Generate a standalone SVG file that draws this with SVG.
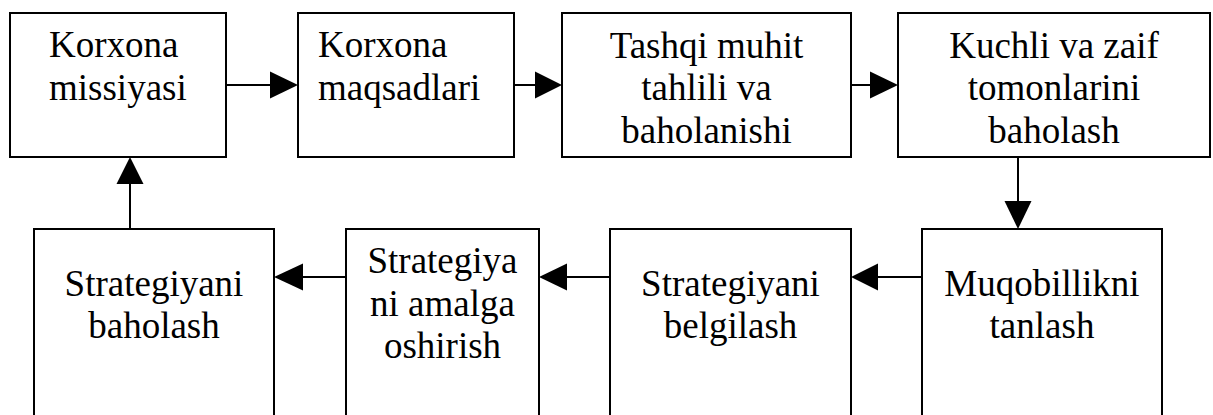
<svg xmlns="http://www.w3.org/2000/svg" width="1213" height="415" viewBox="0 0 1213 415">
<style>
.box{fill:#fff;stroke:#000;stroke-width:2}
.t{font-family:"Liberation Serif","Times New Roman",serif;font-size:37px;fill:#000}
.c{text-anchor:middle}
.ln{stroke:#000;stroke-width:2;fill:none}
.ah{fill:#000}
</style>
<rect width="1213" height="415" fill="#fff"/>
<g id="node-missiya"><rect class="box" x="10" y="13" width="216" height="144"/>
<text class="t" x="49" y="57">Korxona</text><text class="t" x="49" y="100">missiyasi</text></g>
<g id="node-maqsad"><rect class="box" x="298" y="13" width="216" height="144"/>
<text class="t" x="318" y="57">Korxona</text><text class="t" x="318" y="100">maqsadlari</text></g>
<g id="node-tashqi"><rect class="box" x="562" y="13" width="289" height="144"/>
<text class="t c" x="706.5" y="57.5">Tashqi muhit</text><text class="t c" x="706.5" y="100">tahlili va</text><text class="t c" x="706.5" y="142.5">baholanishi</text></g>
<g id="node-kuchli"><rect class="box" x="898" y="13" width="312" height="144"/>
<text class="t c" x="1054" y="57.5">Kuchli va zaif</text><text class="t c" x="1054" y="100">tomonlarini</text><text class="t c" x="1054" y="142.5">baholash</text></g>
<g id="node-muqobil"><rect class="box" x="922" y="229" width="240" height="200"/>
<text class="t c" x="1042" y="296">Muqobillikni</text><text class="t c" x="1042" y="338">tanlash</text></g>
<g id="node-belgilash"><rect class="box" x="610" y="229" width="241" height="200"/>
<text class="t c" x="730.5" y="296">Strategiyani</text><text class="t c" x="730.5" y="338">belgilash</text></g>
<g id="node-amalga"><rect class="box" x="346" y="229" width="193" height="200"/>
<text class="t c" x="442.5" y="273">Strategiya</text><text class="t c" x="442.5" y="315.5">ni amalga</text><text class="t c" x="442.5" y="358">oshirish</text></g>
<g id="node-baholash"><rect class="box" x="34" y="229" width="240" height="200"/>
<text class="t c" x="154" y="296">Strategiyani</text><text class="t c" x="154" y="338">baholash</text></g>
<g id="connectors">
<line class="ln" x1="226" y1="85" x2="272" y2="85"/><polygon class="ah" points="270,71.5 298,85 270,98.5"/>
<line class="ln" x1="514" y1="85" x2="537" y2="85"/><polygon class="ah" points="535,71.5 562,85 535,98.5"/>
<line class="ln" x1="851" y1="85" x2="872" y2="85"/><polygon class="ah" points="870,71.5 898,85 870,98.5"/>
<line class="ln" x1="1018" y1="157" x2="1018" y2="203"/><polygon class="ah" points="1004.5,201 1031.5,201 1018,229"/>
<line class="ln" x1="922" y1="277" x2="876" y2="277"/><polygon class="ah" points="878,263.5 878,290.5 851,277"/>
<line class="ln" x1="610" y1="277" x2="565" y2="277"/><polygon class="ah" points="567,263.5 567,290.5 539,277"/>
<line class="ln" x1="346" y1="277" x2="301" y2="277"/><polygon class="ah" points="303,263.5 303,290.5 274,277"/>
<line class="ln" x1="130" y1="229" x2="130" y2="182"/><polygon class="ah" points="116.5,184 143.5,184 130,157"/>
</g>
</svg>
